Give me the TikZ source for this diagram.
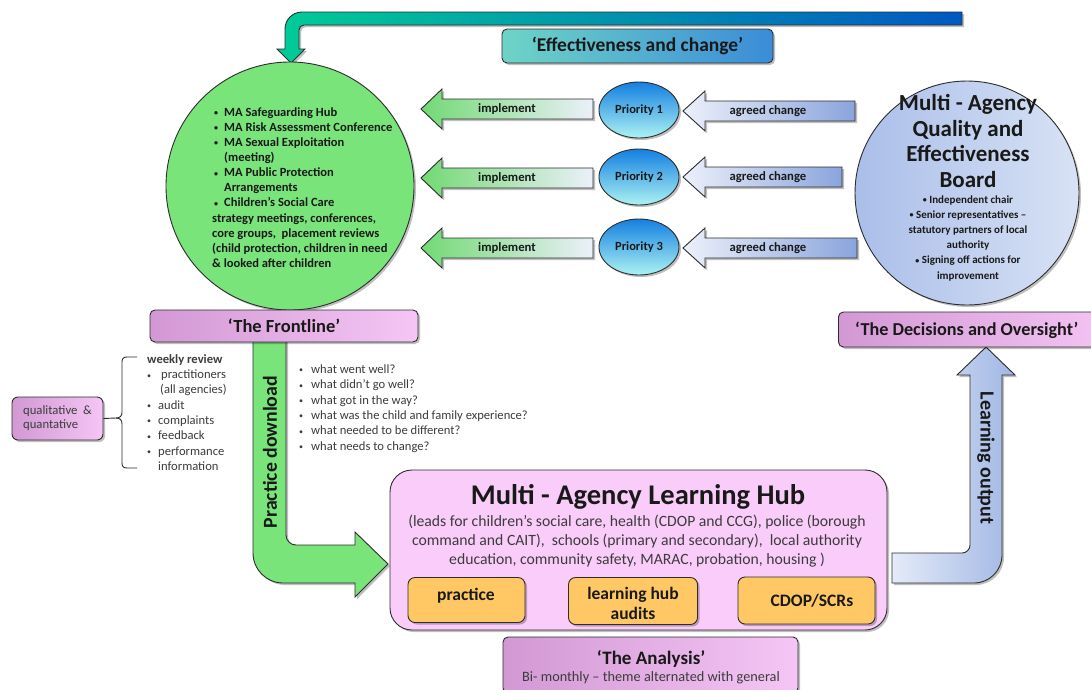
\documentclass[tikz,border=0pt]{standalone}
\usepackage{fontspec}
\setmainfont{Carlito}
\usetikzlibrary{shapes.geometric,shadows}
\definecolor{edgec}{RGB}{45,45,45}
\definecolor{txt}{RGB}{25,25,25}
\definecolor{txtgray}{RGB}{60,60,60}
\definecolor{greenc}{RGB}{120,228,122}
\definecolor{purL}{RGB}{210,152,212}
\definecolor{purR}{RGB}{245,198,245}
\definecolor{hubpink}{RGB}{250,204,250}
\definecolor{orangec}{RGB}{255,200,100}
\definecolor{boardL}{RGB}{170,190,233}
\definecolor{boardR}{RGB}{216,226,245}
\definecolor{prioT}{RGB}{20,128,225}
\definecolor{prioB}{RGB}{172,242,242}
\definecolor{paleblue}{RGB}{236,240,250}
\definecolor{midblue}{RGB}{200,212,238}
\definecolor{arrowblue}{RGB}{138,164,220}
\definecolor{topL}{RGB}{0,204,150}
\definecolor{topM}{RGB}{30,190,215}
\definecolor{topR}{RGB}{0,88,196}
\definecolor{effL}{RGB}{110,212,198}
\definecolor{effM}{RGB}{40,196,218}
\definecolor{effR}{RGB}{58,140,216}
\definecolor{loL}{RGB}{228,235,248}
\definecolor{loR}{RGB}{160,182,228}
\newcommand\Dot{\raisebox{0.6pt}{\fontsize{8}{8}\selectfont •}}
\newcommand\Bul{\hspace*{2pt}\makebox[10pt][l]{\Dot}}
\newcommand\Ind{\hspace*{12pt}}
\newcommand\Wb{\makebox[11pt][l]{\Dot}}
\newcommand\Qb{\makebox[12pt][l]{\Dot}}
\newcommand\ImplArrow[1]{%
  \draw[implarrow] (593,#1-10) -- (442,#1-10) -- (442,#1-20) -- (421,#1) -- (442,#1+20) -- (442,#1+10) -- (593,#1+10) -- cycle;}
\newcommand\AgreedArrow[2]{%
  \draw[agreedarrow] (#2,#1-10) -- (705,#1-10) -- (705,#1-20) -- (683,#1) -- (705,#1+20) -- (705,#1+10) -- (#2,#1+10) -- cycle;}
\tikzset{
  edge/.style={draw=edgec, line width=0.9pt},
  shadowed/.style={drop shadow={shadow xshift=2pt, shadow yshift=-2pt, opacity=0.25, fill=black}},
  purplebox/.style={edge, shadowed, rounded corners=5pt, left color=purL, right color=purR},
  orangebox/.style={edge, shadowed, rounded corners=7pt, fill=orangec},
  prio/.style={ellipse, edge, shadowed, minimum width=80pt, minimum height=56pt, top color=prioT, bottom color=prioB, inner sep=0pt, font=\bfseries\fontsize{12.5}{14}\selectfont, text=txt},
  implarrow/.style={edge, shadowed, left color=greenc!95!black, middle color=midblue, right color=paleblue},
  agreedarrow/.style={edge, shadowed, left color=paleblue, right color=arrowblue},
  lbl/.style={inner sep=0pt, text=txt},
  arrowtxt/.style={lbl, font=\bfseries\fontsize{12.7}{14}\selectfont},
  brace/.style={draw=edgec, line width=0.9pt}
}
\begin{document}
\begin{tikzpicture}[x=1pt,y=-1pt]
\useasboundingbox (0,0) rectangle (1091,689);
\fill[white] (0,0) rectangle (1091,689);
\clip (0,0) rectangle (1091,689);

% top feedback arrow
\draw[edge, shadowed, left color=topL, middle color=topM, right color=topR]
  (962,12) -- (302,12) .. controls (292.6,12) and (285,19.6) .. (285,29) -- (285,49) -- (277,49) -- (291,63) -- (305,49) -- (299,49) -- (299,30) .. controls (299,27.2) and (301.2,25) .. (304,25) -- (962,25) -- cycle;

\node[edge, shadowed, rounded corners=5pt, left color=effL, middle color=effM, right color=effR, minimum width=271pt, minimum height=34pt, font=\bfseries\fontsize{19.5}{22}\selectfont, text=txt] (eff) at (637.5,46) {‘Effectiveness and change’};

% frontline circle
\node[circle, edge, shadowed, fill=greenc, minimum size=248pt, inner sep=0pt] (fcircle) at (290,186) {};
\node[lbl, anchor=west, align=left, font=\bfseries\fontsize{12.5}{15.1}\selectfont] (ftext) at (212,187.5) {%
\Bul MA Safeguarding Hub\\
\Bul MA Risk Assessment Conference\\
\Bul MA Sexual Exploitation\\
\Ind(meeting)\\
\Bul MA Public Protection\\
\Ind Arrangements\\
\Bul Children’s Social Care\\
strategy meetings, conferences,\\
core groups,\ \ placement reviews\\
(child protection, children in need\\
\& looked after children};

% board circle
\node[circle, edge, shadowed, left color=boardL, right color=boardR, minimum size=224pt, inner sep=0pt] (board) at (967,193) {};
\node[lbl, align=center, font=\bfseries\fontsize{23}{25.7}\selectfont] (boardtitle) at (968,141) {Multi - Agency\\Quality and\\Effectiveness\\Board};
\node[lbl, align=center, font=\bfseries\fontsize{11}{15.2}\selectfont] (boardlist) at (968,238) {\Dot\ Independent chair\\\Dot\ Senior representatives –\\statutory partners of local\\authority\\\Dot\ Signing off actions for\\improvement};

% priorities
\node[prio] (p1) at (639,110) {Priority 1};
\node[prio] (p2) at (639,177) {Priority 2};
\node[prio] (p3) at (639,247) {Priority 3};

\ImplArrow{109}
\ImplArrow{178}
\ImplArrow{248}
\node[arrowtxt] (imp1) at (507,109) {implement};
\node[arrowtxt] (imp2) at (507,178) {implement};
\node[arrowtxt] (imp3) at (507,248) {implement};

\AgreedArrow{111}{855}
\AgreedArrow{177}{842}
\AgreedArrow{248}{857}
\node[arrowtxt] (ag1) at (768,111) {agreed change};
\node[arrowtxt] (ag2) at (768,177) {agreed change};
\node[arrowtxt] (ag3) at (768,248) {agreed change};

% practice download arrow
\draw[edge, shadowed, fill=greenc]
  (253,340) -- (253,553) .. controls (253,569.6) and (266.4,583) .. (283,583) -- (355,583) -- (355,597) -- (388,564) -- (355,532) -- (355,545) -- (296,545) .. controls (290.5,545) and (286,540.5) .. (286,535) -- (286,340) -- cycle;
\node[lbl, rotate=90, font=\bfseries\fontsize{19.8}{22}\selectfont] (pdl) at (270,452) {Practice download};

% frontline label
\node[purplebox, minimum width=268pt, minimum height=32pt] (front) at (284,326) {};
\node[lbl, font=\bfseries\fontsize{18.5}{20}\selectfont] (fronttxt) at (front.center) {‘The Frontline’};

% qualitative box and brace
\node[purplebox, rounded corners=6pt, minimum width=91pt, minimum height=43pt, align=left, font=\fontsize{12.7}{14}\selectfont, text=txtgray] (qq) at (57.5,418.5) {qualitative\ \ \&\\quantative};
\draw[brace] (qq.east) -- (116,418) .. controls (120,418) and (122,416) .. (122,412) -- (122,362) .. controls (122,358.5) and (123.5,357) .. (127,357) -- (137,357);
\draw[brace] (116,418) .. controls (120,418) and (122,420) .. (122,424) -- (122,463) .. controls (122,466.5) and (123.5,468) .. (127,468) -- (137,468);

\node[lbl, anchor=west, align=left, font=\fontsize{12.6}{15.3}\selectfont, text=txtgray] (weekly) at (147,412.5) {%
\textbf{weekly review}\\
\Wb\hspace*{3pt}practitioners\\
\hspace*{13pt}(all agencies)\\
\Wb audit\\
\Wb complaints\\
\Wb feedback\\
\Wb performance\\
\hspace*{11pt}information};

\node[lbl, anchor=west, align=left, font=\fontsize{12.6}{15.4}\selectfont, text=txtgray] (questions) at (299,408.5) {%
\Qb what went well?\\
\Qb what didn’t go well?\\
\Qb what got in the way?\\
\Qb what was the child and family experience?\\
\Qb what needed to be different?\\
\Qb what needs to change?};

% learning output arrow
\draw[edge, shadowed, left color=loL, right color=loR]
  (892,553) -- (962,553) .. controls (966.4,553) and (970,549.4) .. (970,545) -- (970,375) -- (957,375) -- (986,347) -- (1015,375) -- (1002,375) -- (1002,555) .. controls (1002,570.5) and (989.5,583) .. (974,583) -- (892,583) -- cycle;
\node[lbl, rotate=-90, font=\bfseries\fontsize{20}{22}\selectfont] (lo) at (986,458) {Learning output};

% decisions label
\node[purplebox, anchor=west, minimum width=280pt, minimum height=35pt] (dec) at (838,329.5) {};
\node[lbl, anchor=west, font=\bfseries\fontsize{18.2}{22}\selectfont] (dectxt) at (855,330) {‘The Decisions and Oversight’};

% learning hub
\node[edge, shadowed, rounded corners=22pt, fill=hubpink, minimum width=497pt, minimum height=160pt] (hub) at (638.5,550) {};
\node[lbl, font=\bfseries\fontsize{28.5}{32}\selectfont] (hubtitle) at (638,497) {Multi - Agency Learning Hub};
\node[lbl, align=center, font=\fontsize{15.7}{19}\selectfont, text=txtgray] (hubsub) at (637,541) {(leads for children’s social care, health (CDOP and CCG), police (borough\\command and CAIT),\ \ schools (primary and secondary),\ \ local authority\\education, community safety, MARAC, probation, housing )};
\node[orangebox, minimum width=117pt, minimum height=45pt] (prac) at (466.5,600) {};
\node[lbl, font=\bfseries\fontsize{17.5}{20}\selectfont] (practxt) at (466,596) {practice};
\node[orangebox, minimum width=129pt, minimum height=47pt] (aud) at (633,601) {};
\node[lbl, align=center, font=\bfseries\fontsize{17.5}{20}\selectfont] (audtxt) at (633,603) {learning hub\\audits};
\node[orangebox, minimum width=137pt, minimum height=47pt] (cdop) at (806.5,600.5) {};
\node[lbl, font=\bfseries\fontsize{17.5}{20}\selectfont] (cdoptxt) at (812,601) {CDOP/SCRs};

% analysis label
\node[purplebox, minimum width=295pt, minimum height=56pt] (analysis) at (650.5,665) {};
\node[lbl, font=\bfseries\fontsize{19}{22}\selectfont] (antitle) at (651,659) {‘The Analysis’};
\node[lbl, font=\fontsize{14.3}{16}\selectfont, text=txtgray] (ansub) at (651,678) {Bi- monthly – theme alternated with general};
\end{tikzpicture}
\end{document}
